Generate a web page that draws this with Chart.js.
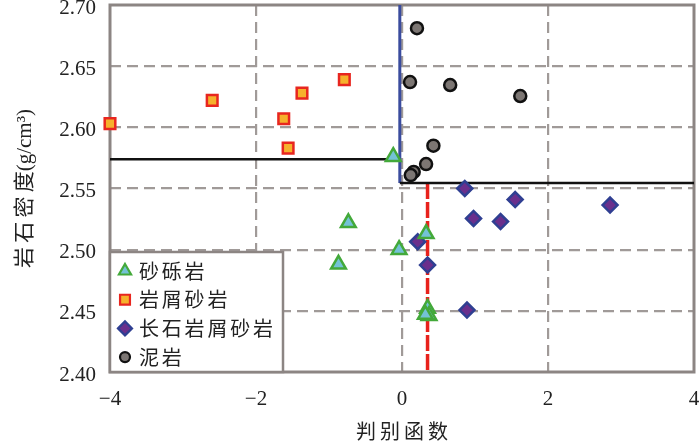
<!DOCTYPE html>
<html>
<head>
<meta charset="utf-8">
<script src="https://cdn.jsdelivr.net/npm/chart.js@4/dist/chart.umd.min.js"></script>
<style>
  html, body { margin: 0; padding: 0; background: #fff; }
  #wrap { width: 700px; height: 441px; }
</style>
</head>
<body>
<div id="wrap"><canvas id="rockChart"></canvas></div>
<script>
// series (x = 判别函数, y = 岩石密度)
const gravelX = [-0.12, -0.735, -0.87, -0.04, 0.33, 0.35, 0.37, 0.32];
const gravelY = [2.576, 2.522, 2.488, 2.500, 2.513, 2.452, 2.446, 2.447];

const lithicX = [-4.0, -2.6, -1.62, -1.37, -1.56, -0.79];
const lithicY = [2.603, 2.622, 2.607, 2.628, 2.583, 2.639];

const feldX = [0.86, 1.55, 2.85, 0.98, 1.35, 0.215, 0.35, 0.89];
const feldY = [2.550, 2.541, 2.5365, 2.5255, 2.523, 2.5065, 2.4874, 2.4506];

const mudX = [0.205, 0.11, 0.66, 1.62, 0.43, 0.33, 0.16, 0.12];
const mudY = [2.681, 2.637, 2.6346, 2.6256, 2.585, 2.570, 2.5635, 2.561];

// boundary lines
const leftLineX = [-4, -0.03];
const leftLineY = [2.574, 2.574];
const blueLineX = [-0.03, -0.03];
const blueLineY = [2.70, 2.5545];
const rightLineX = [-0.03, 4];
const rightLineY = [2.5545, 2.5545];
const redLineX = [0.35, 0.35];
const redLineY = [2.5545, 2.40];

// axis ticks
const xTicks = [-4, -2, 0, 2, 4];
const yTicks = [2.40, 2.45, 2.50, 2.55, 2.60, 2.65, 2.70];

const seriesNames = ['砂砾岩', '岩屑砂岩', '长石岩屑砂岩', '泥岩'];

const toPoints = (xs, ys) => xs.map((x, i) => ({ x: x, y: ys[i] }));

const gridColor = '#a09a98';
const frameColor = '#8c8583';
const textColor = '#222';
const serif = "'Liberation Serif', 'Noto Sans CJK SC', serif";

function lineSet(xs, ys, color, width, dash) {
    return {
        type: 'line',
        data: toPoints(xs, ys),
        borderColor: color,
        borderWidth: width,
        borderDash: dash || [],
        pointRadius: 0,
        fill: false,
        order: 5
    };
}

const pointSets = [
    { label: seriesNames[0], data: toPoints(gravelX, gravelY), pointStyle: 'triangle', pointRadius: 8.5,
      backgroundColor: '#74c2d6', borderColor: '#43a93a', borderWidth: 2.5 },
    { label: seriesNames[1], data: toPoints(lithicX, lithicY), pointStyle: 'rect', pointRadius: 7.5,
      backgroundColor: '#f6b12c', borderColor: '#e8261f', borderWidth: 2.5 },
    { label: seriesNames[2], data: toPoints(feldX, feldY), pointStyle: 'rectRot', pointRadius: 7.5,
      backgroundColor: '#6a2f8c', borderColor: '#2f3f92', borderWidth: 2.5 },
    { label: seriesNames[3], data: toPoints(mudX, mudY), pointStyle: 'circle', pointRadius: 6,
      backgroundColor: '#7c7673', borderColor: '#111', borderWidth: 2.5 }
];
pointSets.forEach(ds => { ds.type = 'scatter'; ds.order = 1; ds.clip = false; });

// plot frame, drawn under the markers
const framePlugin = {
    id: 'frame',
    beforeDatasetsDraw(chart) {
        const { ctx, chartArea: a } = chart;
        ctx.save();
        ctx.strokeStyle = frameColor;
        ctx.lineWidth = 3;
        ctx.strokeRect(a.left, a.top, a.right - a.left, a.bottom - a.top);
        ctx.restore();
    }
};

// legend box in the lower-left corner of the plot
const legendPlugin = {
    id: 'boxLegend',
    afterDraw(chart) {
        const { ctx, chartArea: a } = chart;
        const boxW = 173, boxH = 120;
        const x0 = a.left, y0 = a.bottom - boxH;
        ctx.save();
        ctx.fillStyle = '#fff';
        ctx.fillRect(x0, y0, boxW, boxH);
        ctx.strokeStyle = frameColor;
        ctx.lineWidth = 2.5;
        ctx.strokeRect(x0, y0, boxW, boxH);

        ctx.font = "20px 'Noto Sans CJK SC', sans-serif";
        ctx.textBaseline = 'middle';
        ctx.textAlign = 'left';
        pointSets.forEach((ds, i) => {
            const cy = y0 + 19 + i * 28.7;
            ctx.fillStyle = ds.backgroundColor;
            ctx.strokeStyle = ds.borderColor;
            ctx.lineWidth = 2.2;
            Chart.helpers.drawPoint(ctx, {
                pointStyle: ds.pointStyle,
                radius: ds.pointStyle === 'circle' ? 5 : 7,
                borderWidth: 2.2,
                rotation: 0
            }, x0 + 15, cy);
            ctx.fillStyle = textColor;
            let tx = x0 + 29;
            for (const ch of ds.label) {
                ctx.fillText(ch, tx, cy);
                tx += 22.8;
            }
        });
        ctx.restore();
    }
};

const edgeX = v => v === xTicks[0] || v === xTicks[xTicks.length - 1];
const edgeY = v => Math.abs(v - yTicks[0]) < 1e-6 || Math.abs(v - yTicks[yTicks.length - 1]) < 1e-6;

new Chart(document.getElementById('rockChart').getContext('2d'), {
    data: {
        datasets: [
            ...pointSets,
            lineSet(leftLineX, leftLineY, '#111', 2.5),
            lineSet(rightLineX, rightLineY, '#111', 2.5),
            lineSet(blueLineX, blueLineY, '#3a4c9e', 3),
            lineSet(redLineX, redLineY, '#e8221c', 3.5, [16, 3])
        ]
    },
    options: {
        responsive: true,
        maintainAspectRatio: false,
        animation: false,
        layout: { autoPadding: false, padding: { left: 0, right: 6, top: 5, bottom: 0 } },
        plugins: {
            legend: { display: false },
            tooltip: { enabled: false }
        },
        scales: {
            x: {
                type: 'linear',
                min: -4,
                max: 4,
                afterFit: s => { s.height = 69; s.paddingLeft = 0; s.paddingRight = 0; },
                afterBuildTicks: s => { s.ticks = xTicks.map(v => ({ value: v })); },
                ticks: {
                    padding: 15,
                    color: textColor,
                    font: { family: serif, size: 21 },
                    callback: v => String(v).replace('-', '\u2212')
                },
                grid: {
                    drawTicks: false,
                    lineWidth: 2.2,
                    color: c => (c.tick && edgeX(c.tick.value)) ? 'rgba(0,0,0,0)' : gridColor
                },
                border: { display: false, dash: [11, 6] },
                title: {
                    display: true,
                    text: '判\u2009别\u2009函\u2009数',
                    color: textColor,
                    font: { family: serif, size: 20 },
                    padding: { top: 0, bottom: -5 }
                }
            },
            y: {
                type: 'linear',
                min: 2.40,
                max: 2.70,
                afterFit: s => { s.width = 110; s.paddingTop = 0; s.paddingBottom = 0; },
                afterBuildTicks: s => { s.ticks = yTicks.map(v => ({ value: v })); },
                ticks: {
                    padding: 14,
                    labelOffset: 3,
                    color: textColor,
                    font: { family: serif, size: 21 },
                    callback: v => Number(v).toFixed(2)
                },
                grid: {
                    drawTicks: false,
                    lineWidth: 2.2,
                    color: c => (c.tick && edgeY(c.tick.value)) ? 'rgba(0,0,0,0)' : gridColor
                },
                border: { display: false, dash: [11, 6] },
                title: {
                    display: true,
                    text: '岩\u2009石\u2009密\u2009度(g/cm³)',
                    color: textColor,
                    font: { family: serif, size: 21 },
                    padding: { top: 13, bottom: 0 }
                }
            }
        }
    },
    plugins: [framePlugin, legendPlugin]
});
</script>
</body>
</html>
